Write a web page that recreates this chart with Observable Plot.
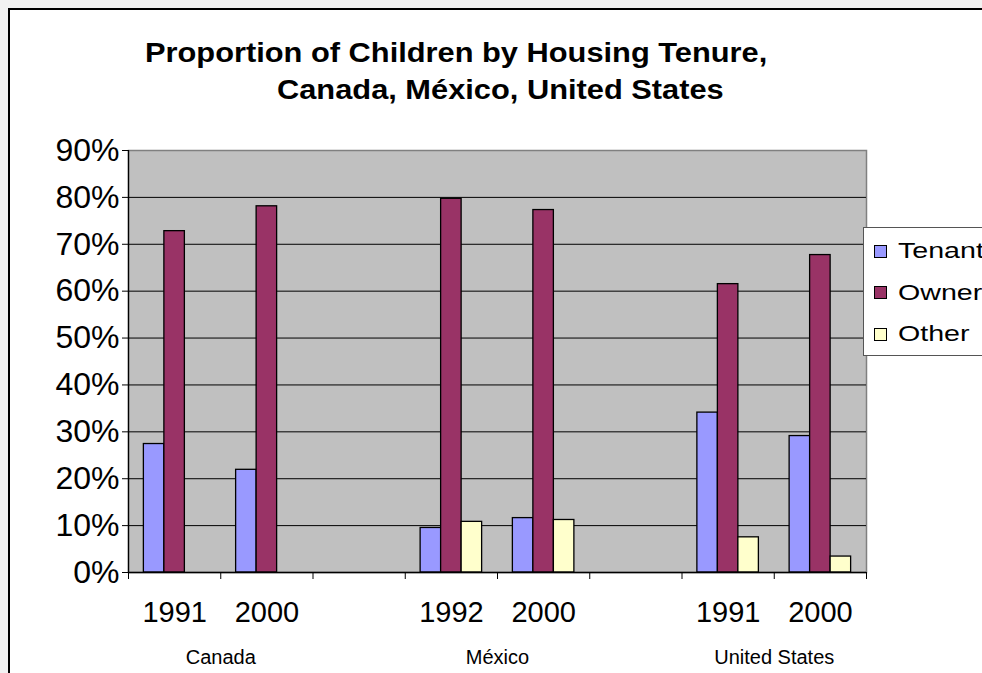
<!DOCTYPE html>
<html>
<head>
<meta charset="utf-8">
<script src="https://cdn.jsdelivr.net/npm/d3@7"></script>
<script src="https://cdn.jsdelivr.net/npm/@observablehq/plot@0.6"></script>
<style>
  html, body { margin: 0; padding: 0; width: 982px; height: 673px; overflow: hidden; background: #f2f2f2; }
  body { position: relative; font-family: "Liberation Sans", Arial, sans-serif; }
  #box { position: absolute; left: 8px; top: 8px; width: 1000px; height: 700px; background: #fff; border: 2px solid #000; box-sizing: border-box; }
  .title { position: absolute; font-weight: bold; font-size: 28px; line-height: 28px; color: #000; white-space: nowrap; transform: scaleX(1.1); transform-origin: left center; }
  #chart { position: absolute; left: 0; top: 130px; }
  #legend { position: absolute; left: 863px; top: 227px; width: 140px; height: 129px; background: #fff; border: 1px solid #555; box-sizing: border-box; }
  .row { position: absolute; left: 10px; height: 24px; display: flex; align-items: center; font-size: 22px; color: #000; }
  .sw { width: 13px; height: 13px; border: 1px solid #000; box-sizing: border-box; margin-right: 11px; flex: none; }
  .lt { display: inline-block; transform: scaleX(1.3); transform-origin: left center; white-space: nowrap; }
</style>
</head>
<body>
<div id="box"></div>
<div class="title" style="left:145px; top:39px;">Proportion of Children by Housing Tenure,</div>
<div class="title" style="left:277px; top:76px;">Canada, México, United States</div>
<div id="chart"></div>
<div id="legend"></div>
<script>
// ---- data ----
const categories = ["Canada 1991", "Canada 2000", "", "México 1992", "México 2000", "", "United States 1991", "United States 2000"];
const yearLabels = ["1991", "2000", "", "1992", "2000", "", "1991", "2000"];
const groupLabels = ["Canada", "México", "United States"];
const series = ["Tenant", "Owner", "Other"];
const tenant = [0.274, 0.219, null, 0.095, 0.116, null, 0.341, 0.291];
const owner  = [0.728, 0.781, null, 0.797, 0.773, null, 0.615, 0.677];
const other  = [null,  null,  null, 0.108, 0.112, null, 0.075, 0.034];
const yTicks = [0, 0.1, 0.2, 0.3, 0.4, 0.5, 0.6, 0.7, 0.8, 0.9];
const colors = ["#9999FF", "#993366", "#FFFFCC"];

// ---- build table ----
const seriesValues = [tenant, owner, other];
const rows = [];
categories.forEach((c, i) => {
  seriesValues.forEach((vals, s) => {
    if (vals[i] != null) rows.push({i, s, series: series[s], value: vals[i]});
  });
});
const bw = 1 / 4.5; // bar width in category units (gap width 150%)
const yearRows = yearLabels.map((label, i) => ({i, label})).filter(d => d.label);
const groupRows = groupLabels.map(g => {
  const idx = categories.map((c, i) => c.startsWith(g) ? i : -1).filter(i => i >= 0);
  return {label: g, x: d3.mean(idx) + 0.5};
});
const font = "'Liberation Sans', Arial, sans-serif";

const chart = Plot.plot({
  width: 982,
  height: 543,
  marginLeft: 128,
  marginRight: 116,
  marginTop: 20,
  marginBottom: 101,
  style: {fontFamily: font, background: "transparent", overflow: "visible", color: "#000"},
  x: {domain: [0, categories.length], axis: null},
  y: {domain: [0, 0.9], axis: null},
  color: {domain: series, range: colors},
  marks: [
    Plot.frame({fill: "#c0c0c0", stroke: "#808080", strokeWidth: 1.5}),
    Plot.gridY(yTicks.filter(t => t > 0 && t < 0.9), {stroke: "#000", strokeOpacity: 1, strokeWidth: 1}),
    Plot.rectY(rows, {
      x1: d => d.i + 0.5 + (d.s - 1.5) * bw,
      x2: d => d.i + 0.5 + (d.s - 0.5) * bw,
      y: "value",
      fill: "series",
      stroke: "#000",
      strokeWidth: 1.3
    }),
    Plot.ruleX([0], {stroke: "#000", strokeWidth: 1.3}),
    Plot.ruleY([0], {stroke: "#000", strokeWidth: 1.3}),
    Plot.axisY(yTicks, {tickFormat: d3.format(".0%"), fontSize: 32, tickSize: 6, tickPadding: 3, color: "#000", label: null}),
    Plot.axisX(d3.range(0, categories.length + 1), {tickFormat: () => "", tickSize: 7, color: "#000", label: null}),
    Plot.text(yearRows, {x: d => d.i + 0.5, text: "label", frameAnchor: "bottom", dy: 40, fontSize: 29, lineAnchor: "middle", fill: "#000"}),
    Plot.text(groupRows, {x: "x", text: "label", frameAnchor: "bottom", dy: 85, fontSize: 20, lineAnchor: "middle", fill: "#000"})
  ]
});
document.getElementById("chart").appendChild(chart);

// ---- legend ----
const legend = document.getElementById("legend");
series.forEach((s, k) => {
  const row = document.createElement("div");
  row.className = "row";
  row.style.top = (11 + k * 41.5) + "px";
  const sw = document.createElement("div");
  sw.className = "sw";
  sw.style.background = colors[k];
  row.appendChild(sw);
  const lt = document.createElement("span");
  lt.className = "lt";
  lt.textContent = s;
  row.appendChild(lt);
  legend.appendChild(row);
});
</script>
</body>
</html>
